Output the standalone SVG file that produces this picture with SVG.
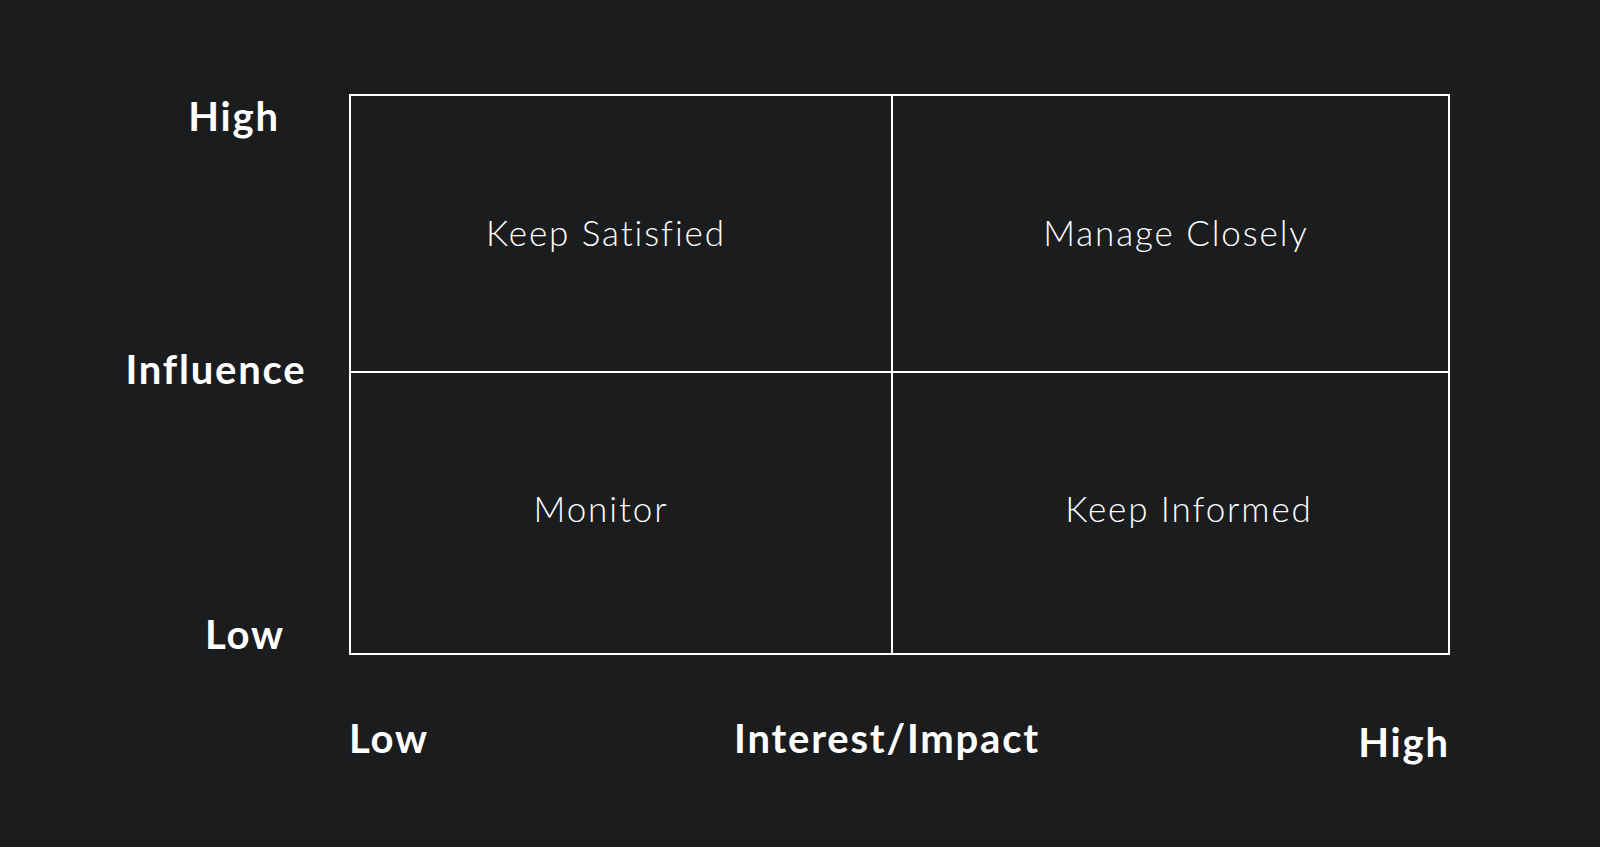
<svg xmlns="http://www.w3.org/2000/svg" width="1600" height="847" viewBox="0 0 1600 847">
<style>
.ax{font-family:"Lato","Liberation Sans",sans-serif;font-weight:700;font-size:40px;fill:#fff;text-anchor:middle;letter-spacing:1.8px}
.q{font-family:"Lato","Liberation Sans",sans-serif;font-weight:300;font-size:35px;fill:#fff;text-anchor:middle;letter-spacing:1.9px}
.ln{stroke:#fff;stroke-width:2;fill:none}
</style>
<rect width="1600" height="847" fill="#1b1c1e"/>
<g id="grid">
<rect id="frame" class="ln" x="350" y="95" width="1099" height="559"/>
<line class="ln" x1="892" y1="95" x2="892" y2="654"/>
<line class="ln" x1="350" y1="372" x2="1449" y2="372"/>
</g>
<g id="keep-satisfied"><text class="q" x="606" y="246">Keep Satisfied</text></g>
<g id="manage-closely"><text class="q" x="1176" y="246">Manage Closely</text></g>
<g id="monitor"><text class="q" x="601" y="522">Monitor</text></g>
<g id="keep-informed"><text class="q" x="1189" y="522">Keep Informed</text></g>
<g id="axis-labels">
<text class="ax" x="234" y="131">High</text>
<text class="ax" x="216" y="384">Influence</text>
<text class="ax" x="245" y="649">Low</text>
<text class="ax" x="389" y="753">Low</text>
<text class="ax" x="887" y="753">Interest/Impact</text>
<text class="ax" x="1404" y="757">High</text>
</g>
</svg>
